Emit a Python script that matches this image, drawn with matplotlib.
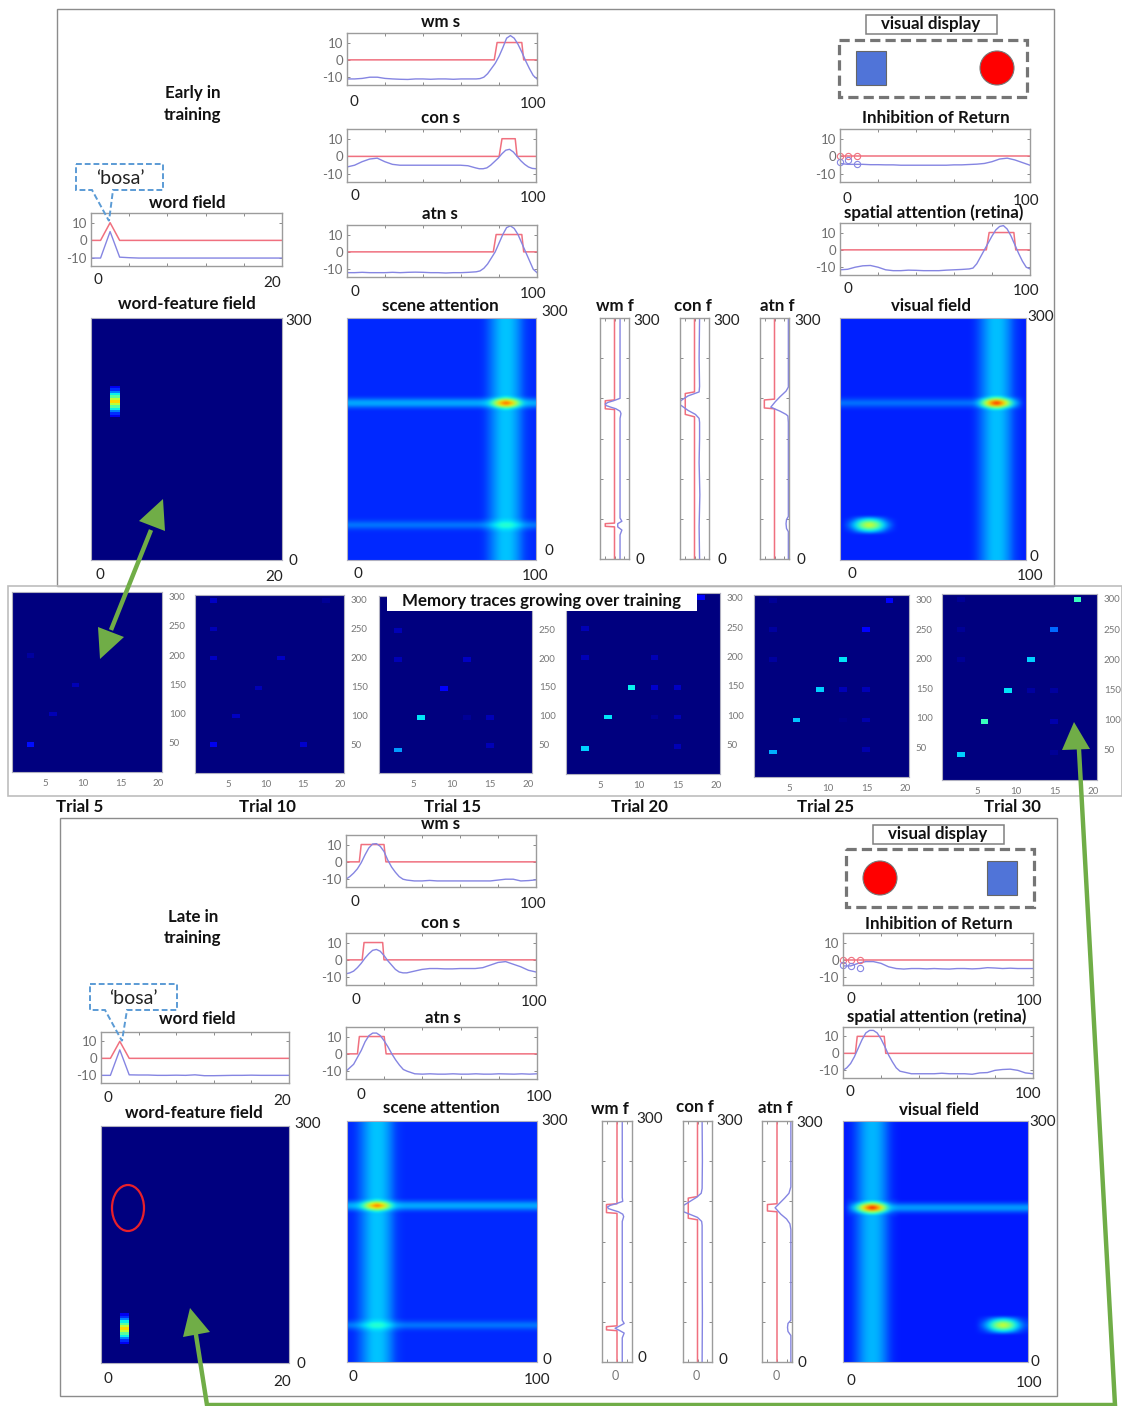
#!/usr/bin/env python3
import numpy as np
import matplotlib
matplotlib.use("Agg")
import matplotlib.pyplot as plt
from matplotlib.patches import Rectangle, Circle, Ellipse, Polygon

plt.rcParams['font.family'] = ['Lato', 'DejaVu Sans']
plt.rcParams['axes.unicode_minus'] = False

W, H = 1122, 1406
RED = '#F0707F'
BLUE = '#8585E2'
GREEN = '#70AD47'
FRAME = '#9C9C9C'

# --- line panels ---
x_s = list(range(0, 101, 4))
x_early = list(range(0, 70, 4)) + list(range(70, 101, 2))
x_late = list(range(0, 32, 2)) + list(range(32, 101, 4))
x_word = list(range(0, 21))

early_wm_s = [-11, -11, -10.7, -10, -10, -10.7, -11, -11.2, -11.3, -11, -11, -11.2, -11, -11, -11.2, -11, -11, -11,
              -10.8, -10, -8, -5, -2, 2, 7, 12.5, 14, 12.5, 9, 4.5, -.5, -5, -9, -11]
early_con_s = [-6, -5, -3, -1.5, -1, -3, -4.5, -5, -5, -5, -5, -5, -5, -5, -5, -5, -5.3, -6.5,
               -7, -7, -6.5, -5, -3, -1, 1.5, 3.5, 4, 2.5, 0, -2.5, -4.5, -6, -6.8, -7]
early_atn_s = [-12, -12, -11.8, -12, -12, -12, -11.8, -12, -11.8, -11.7, -11.8, -12, -12, -12.2, -12, -12, -11.8, -11.5,
               -11, -9.5, -7, -3.5, 0, 5, 10, 14, 15, 13.5, 10, 5, 0, -5, -10, -12]
early_ior = [-4, -4.5, -4.5, -4.5, -4.7, -4.7, -4.8, -4.8, -5, -5, -5, -5, -5, -5, -5, -4.8, -4.8, -4.6, -4.4, -4,
             -3, -1.5, -1, -2, -3.5, -5]
early_spatial = [-11.5, -11.2, -10, -9.2, -9, -10, -11.5, -12, -12, -11.7, -11.8, -12, -12, -12, -11.7, -11.5, -11.3, -11,
                 -10.5, -8, -4, 0, 4, 8, 11.5, 13.5, 14, 12, 8, 3, -2, -6.5, -10, -11]
early_word = [-10, -10, 5, -9.5, -9.8, -10, -10, -10, -10, -10, -10, -10, -10, -10, -10, -10, -10, -10, -10, -10, -10]

late_wm_s = [-10, -8.5, -6.5, -4, -.5, 4, 8, 10.3, 10.5, 9, 6, 1, -3, -6, -8.5, -10,
             -10.5, -11, -11, -10.7, -11, -11, -11, -11, -11, -11, -11, -11, -10.5, -10, -10, -11, -10.8, -10.4]
late_con_s = [-8, -7.5, -6.5, -4.5, -2, 1, 3.5, 5.5, 6, 5, 2.5, -.5, -3, -5.5, -7, -7.5,
              -7.5, -6.5, -5.5, -5, -5, -5.2, -5.2, -5, -5, -5, -4.5, -3, -1.5, -1, -2.5, -4, -6, -7]
late_atn_s = [-10, -8, -6, -2, 2, 7, 10.5, 12, 12, 10.5, 7.5, 4, 0, -3.5, -6.5, -9,
              -10, -11.5, -11.7, -11.5, -11.7, -11.7, -11.5, -11.7, -11.7, -11.5, -11.7, -11.7, -11.5, -11.6, -11.7,
              -11.5, -11.7, -11.5]
late_ior = [-3.5, -3.5, -2, -1, -1, -2, -4, -5, -5.3, -5, -5, -5.2, -5, -5.2, -5.3, -5, -5, -5.2, -5, -4.5, -4.7, -5,
            -4.8, -5, -5, -5]
late_spatial = [-10, -8.5, -6, -2, 3, 8, 12, 13.5, 13.5, 12, 8.5, 4, -1, -5, -8.5, -10.5,
                -11, -12, -12, -12, -12, -11.7, -12, -12, -12, -12.3, -11.5, -11.3, -10, -9.5, -9.3, -10, -11.5, -12]
late_word = [-10, -10, 5, -9.7, -9.8, -9.8, -10, -10, -9.9, -10, -9.7, -10.2, -10.2, -10.1, -10, -10, -9.9, -10, -10,
             -10, -10]
word_red = [0, 0, 10, 0, 0, 0, 0, 0, 0, 0, 0, 0, 0, 0, 0, 0, 0, 0, 0, 0, 0]

box_y = [0, 0, 10, 10, 0, 0]
early_wm_box = [0, 77.5, 79, 92, 93, 100]
early_con_box = [0, 80.5, 82, 89, 90, 100]
early_atn_box = [0, 77, 78.5, 92, 93, 100]
early_spatial_box = [0, 77, 78.5, 91.5, 92.5, 100]
late_wm_box = [0, 7, 8, 20, 21, 100]
late_con_box = [0, 8.5, 9.5, 19.3, 20, 100]
late_atn_box = [0, 6, 7, 20, 21, 100]
late_spatial_box = [0, 6.5, 7.5, 21.7, 22.5, 100]

ior_x = [0, 4, 9]
early_ior_red = [0, 0, 0]
early_ior_blue = [-3, -2, -4.5]
late_ior_blue = [-3, -3.5, -4.8]

# --- rotated feature panels ---
early_wmf_y = [0, 30, 36, 40, 44, 47, 51, 60, 175, 181, 184, 187, 189, 191, 193, 195, 197, 200, 205, 300]
early_wmf_v = [-6, -6, -8, -3.5, -3.5, -8, -6, -6, -6, -7, -6, -1.5, 4, 9, 10, 7, 1, -6, -6, -6]
early_wmf_ry = [0, 40, 40.7, 44, 44.7, 186, 187, 197, 198, 300]
early_wmf_rv = [0, 0, 10, 10, 0, 0, 10, 10, 0, 0]
early_conf_y = [0, 40, 80, 120, 150, 170, 175, 180, 185, 192, 197, 203, 208, 215, 250, 300]
early_conf_v = [-5.5, -5, -5.8, -5, -5.5, -5.5, -5, -1, 7, 15.5, 15, 7, -5, -5.5, -5, -5.5]
early_conf_ry = [0, 177, 180, 206, 208, 300]
early_conf_rv = [0, 0, 10, 10, 0, 0]
early_atnf_y = [0, 34, 38, 44, 49, 53, 170, 178, 180, 184, 189, 196, 202, 209, 214, 300]
early_atnf_v = [-15, -15, -13, -12.5, -13, -15, -15, -14.5, -12.5, -6, 4, -1, -6, -12.5, -15, -15]
early_atnf_ry = [0, 187, 188, 198, 199, 300]
early_atnf_rv = [0, 0, 11, 11, 0, 0]

late_wmf_y = [0, 30, 36, 39, 42, 45, 48, 52, 60, 175, 181, 184, 187, 189, 191, 193, 195, 197, 200, 205, 300]
late_wmf_v = [-5.5, -5.5, -7.5, -3, 2, -3, -7.5, -5.5, -5.5, -5.5, -7, -6, -1.5, 4, 9, 10, 7, 1, -6, -5.5, -5.5]
late_wmf_ry = [0, 39, 40, 44, 45, 185, 186, 196, 197, 300]
late_wmf_rv = [0, 0, 11, 11, 0, 0, 11, 11, 0, 0]
late_conf_y = [0, 60, 120, 170, 175, 180, 187, 195, 200, 205, 210, 216, 250, 300]
late_conf_v = [-5, -5.3, -5, -5, -4.5, 0, 15, 15, 8, 1, -4, -5, -5.3, -5]
late_conf_ry = [0, 177, 179, 204, 206, 300]
late_conf_rv = [0, 0, 10, 10, 0, 0]
late_atnf_y = [0, 33, 38, 43, 48, 52, 165, 172, 178, 184, 192, 198, 204, 210, 218, 300]
late_atnf_v = [-14.5, -14.5, -11.5, -11, -11.5, -14.5, -14.5, -13.5, -10, -4, 2, -3, -8, -12.5, -14.5, -14.5]
late_atnf_ry = [0, 187, 188, 196, 197, 300]
late_atnf_rv = [0, 0, 10, 10, 0, 0]

# --- heat fields ---
word_trace = [.10, .17, .25, .36, .46, .58, .68, .58, .46, .36, .25, .17, .10]
early_word_col, early_word_row = 3, 195
late_word_col, late_word_row = 3, 44

band_right_x = [72.5, 75, 77.5, 80, 82.5, 85, 87.5, 90, 92.5, 95, 97.5]
band_left_x = [2.5, 5, 7.5, 10, 12.5, 15, 17.5, 20, 22.5, 25, 27.5]
band_v = [.01, .04, .08, .12, .15, .155, .15, .12, .08, .03, .01]
row_off = [-7.5, -5, -2.5, 0, 2.5, 5, 7.5]
row_main_v = [.02, .06, .11, .13, .11, .06, .02]
row_faint_v = [.01, .03, .06, .08, .06, .03, .01]
hot_patch = [[.17, .18, .20, .22, .24, .25, .24, .22, .20, .18, .17],
             [.18, .21, .26, .32, .37, .40, .37, .32, .26, .21, .18],
             [.20, .25, .34, .44, .52, .56, .52, .44, .34, .25, .20],
             [.22, .30, .42, .58, .70, .76, .70, .58, .42, .30, .22],
             [.24, .32, .46, .64, .78, .88, .78, .64, .46, .32, .24],
             [.22, .30, .42, .58, .70, .76, .70, .58, .42, .30, .22],
             [.20, .25, .34, .44, .52, .56, .52, .44, .34, .25, .20],
             [.18, .21, .26, .32, .37, .40, .37, .32, .26, .21, .18],
             [.17, .18, .20, .22, .24, .25, .24, .22, .20, .18, .17]]
low_patch = [[.16, .17, .19, .21, .23, .24, .23, .21, .19, .17, .16],
             [.17, .19, .24, .29, .33, .35, .33, .29, .24, .19, .17],
             [.18, .22, .29, .36, .42, .45, .42, .36, .29, .22, .18],
             [.19, .25, .33, .43, .52, .56, .52, .43, .33, .25, .19],
             [.20, .26, .35, .46, .55, .60, .55, .46, .35, .26, .20],
             [.19, .25, .33, .43, .52, .56, .52, .43, .33, .25, .19],
             [.18, .22, .29, .36, .42, .45, .42, .36, .29, .22, .18],
             [.17, .19, .24, .29, .33, .35, .33, .29, .24, .19, .17],
             [.16, .17, .19, .21, .23, .24, .23, .21, .19, .17, .16]]

# --- memory traces (col, row, level) ---
trial5 = [(3, 47, .14), (6, 99, .05), (9, 149, .05), (3, 199, .03)]
trial10 = [(3, 49, .10), (15, 49, .07), (6, 98, .06), (9, 146, .05), (3, 198, .06), (12, 198, .06), (3, 248, .05),
           (3, 297, .06), (18, 297, .02)]
trial15 = [(3, 40, .28), (15, 48, .05), (6, 97, .35), (12, 97, .02), (15, 97, .05), (9, 147, .11), (3, 198, .05),
           (12, 198, .06), (3, 248, .05), (3, 297, .05)]
trial20 = [(3, 43, .33), (15, 47, .05), (6, 97, .35), (12, 97, .02), (15, 97, .05), (9, 147, .36), (12, 147, .07),
           (15, 147, .06), (3, 198, .05), (12, 198, .05), (3, 248, .05), (18, 300, .11)]
trial25 = [(3, 42, .30), (15, 46, .04), (6, 96, .32), (12, 96, .01), (15, 96, .04), (9, 147, .33), (12, 147, .05),
           (15, 147, .05), (3, 198, .03), (12, 198, .35), (3, 248, .03), (15, 248, .12), (3, 297, .02), (18, 297, .12)]
trial30 = [(3, 42, .33), (15, 46, .02), (6, 97, .42), (15, 97, .04), (9, 147, .35), (12, 147, .03), (15, 147, .03),
           (3, 198, .02), (12, 198, .33), (3, 248, .02), (15, 248, .23), (3, 297, .02), (18, 297, .42)]
trial_names = ['Trial 5', 'Trial 10', 'Trial 15', 'Trial 20', 'Trial 25', 'Trial 30']
trial_ticks_x = [5, 10, 15, 20]
trial_ticks_y = [50, 100, 150, 200, 250, 300]

fig = plt.figure(figsize=(W / 100, H / 100), dpi=100, facecolor='white')


def px_axes(l, t, r, b, zorder=1):
    return fig.add_axes([l / W, 1 - b / H, (r - l) / W, (b - t) / H], zorder=zorder)


bg = px_axes(0, 0, W, H, zorder=0)
top = px_axes(0, 0, W, H, zorder=5)
for a in (bg, top):
    a.set_xlim(0, W)
    a.set_ylim(H, 0)
    a.axis('off')
top.patch.set_alpha(0)


def txt(x, y, s, size=12.2, bold=True, color='#111111', ha='center'):
    top.text(x, y, s, fontsize=size, fontweight='bold' if bold else 'normal', color=color,
             ha=ha, va='center')


def num(x, y, s):
    txt(x, y, s, size=11, bold=False, color='#222222')


def style(ax, xt, yt):
    for s in ax.spines.values():
        s.set_color(FRAME)
        s.set_linewidth(1.0)
    ax.set_xticks(xt)
    ax.set_yticks(yt)
    ax.tick_params(direction='in', length=2, width=.6, color='#777777', top=True, right=True,
                   labelbottom=False, labelleft=False, pad=3)


def line_panel(box, blue, red_x, red_y, xs=x_s, xmax=100):
    ax = px_axes(*box)
    ax.plot(red_x, red_y, color=RED, lw=1.1)
    ax.plot(xs, blue, color=BLUE, lw=1.0)
    ax.set_xlim(0, xmax)
    ax.set_ylim(-14.5, 15.5)
    style(ax, [xmax * k / 5 for k in range(1, 5)], [-10, 0, 10])
    ax.tick_params(labelleft=True, labelsize=9.5, labelcolor='#6E6E6E')
    return ax


def feature_panel(box, ry, rv, y, v):
    ax = px_axes(*box)
    ax.plot(rv, ry, color=RED, lw=1.1)
    ax.plot(v, y, color=BLUE, lw=1.0)
    ax.set_xlim(15.7, -15.7)
    ax.set_ylim(0, 300)
    style(ax, [10, 0, -10], [50, 100, 150, 200, 250])


def make_field(band_x, rows, base, hot, low=None):
    # grid is 2.5 units per cell on both axes
    col = np.zeros(41)
    col[np.round(np.array(band_x) / 2.5).astype(int)] = band_v
    f = np.full((121, 41), base) + col
    for yc, vals, x0, x1 in rows:
        for off, val in zip(row_off, vals):
            i = int(round((yc + off) / 2.5))
            f[i, int(x0 / 2.5):int(x1 / 2.5) + 1] += val
    pats = [hot] + ([low] if low else [])
    for (xc, yc, scale, p) in pats:
        p = np.array(p) * scale
        r0 = int(round(yc / 2.5)) - p.shape[0] // 2
        c0 = int(round(xc / 2.5)) - p.shape[1] // 2
        f[r0:r0 + p.shape[0], c0:c0 + p.shape[1]] = np.maximum(f[r0:r0 + p.shape[0], c0:c0 + p.shape[1]], p)
    return f


def heat(box, field, extent, interp='bicubic'):
    ax = px_axes(*box)
    ax.imshow(field, origin='lower', cmap='jet', vmin=0, vmax=1, aspect='auto', extent=extent,
              interpolation=interp)
    ax.set_xticks([])
    ax.set_yticks([])
    for s in ax.spines.values():
        s.set_color('#B0B0C0')
        s.set_linewidth(.8)
    return ax


def word_heat(box, col, row):
    f = np.zeros((100, 20))
    r0 = row // 3 - len(word_trace) // 2
    f[r0:r0 + len(word_trace), col - 1] = word_trace
    heat(box, f, (.5, 20.5, 0, 300), interp='nearest')


def trial_panel(box, traces, yticks):
    f = np.zeros((308, 20))
    for col, row, lev in traces:
        f[row - 4:row + 4, col - 1] = lev
    ax = heat(box, f, (.5, 20.5, 0, 308), interp='nearest')
    ax.set_xticks(trial_ticks_x)
    ax.set_yticks(yticks)
    ax.yaxis.tick_right()
    ax.tick_params(length=0, labelsize=7, labelcolor='#777777', pad=5)


def display_box(label_box, dash_box, sq, circ, cx):
    l, t, r, b = label_box
    top.add_patch(Rectangle((l, t), r - l, b - t, fc='white', ec='#808080', lw=1.1))
    txt(cx, (t + b) / 2, 'visual display')
    l, t, r, b = dash_box
    top.add_patch(Rectangle((l, t), r - l, b - t, fc='none', ec='#757575', lw=2.3, ls=(0, (3.2, 1.6))))
    l, t, r, b = sq
    top.add_patch(Rectangle((l, t), r - l, b - t, fc='#5074D8', ec='#666666', lw=.8))
    top.add_patch(Circle(circ, 17, fc='#FF0000', ec='#777777', lw=.8))


def bubble(box, tail, tip, tx, ty):
    l, t, r, b = box
    pts = [(l, t), (r, t), (r, b), (tail[1], b), tip, (tail[0], b), (l, b)]
    top.add_patch(Polygon(pts, closed=True, fc='none', ec='#5B9BD5', lw=1.4, ls=(0, (3, 1.5))))
    txt(tx, ty, '\u2018bosa\u2019', size=14, bold=False, color='#222222')


# frames
bg.add_patch(Rectangle((57, 9), 997, 577, fc='none', ec='#8C8C8C', lw=1.0))
bg.add_patch(Rectangle((60, 818), 997, 578, fc='none', ec='#8C8C8C', lw=1.0))
bg.add_patch(Rectangle((8, 586), 1114, 210, fc='none', ec='#BDBDBD', lw=1.2))

# --- top block ---
line_panel((347, 33, 537, 85), early_wm_s, early_wm_box, box_y, xs=x_early)
line_panel((347, 129, 536, 182), early_con_s, early_con_box, box_y, xs=x_early)
line_panel((347, 225, 537, 277), early_atn_s, early_atn_box, box_y, xs=x_early)
ax = line_panel((840, 129, 1030, 182), early_ior, [0, 100], [0, 0])
ax.plot(ior_x, early_ior_red, 'o', mfc='none', mec=RED, ms=4.5, mew=.8, clip_on=False)
ax.plot(ior_x, early_ior_blue, 'o', mfc='none', mec=BLUE, ms=4.5, mew=.8, clip_on=False)
line_panel((840, 223, 1030, 275), early_spatial, early_spatial_box, box_y, xs=x_early)
line_panel((91, 213, 282, 266), early_word, x_word, word_red, xs=x_word, xmax=20)
word_heat((91, 318, 282, 560), early_word_col, early_word_row)
heat((347, 318, 536, 560), make_field(band_right_x, [(194, row_main_v, 0, 100), (43, row_faint_v, 0, 100)], .165,
                                      (85, 194, .94, hot_patch)), (-1.25, 101.25, -1.25, 301.25))
heat((840, 318, 1026, 560), make_field(band_right_x, [(194, row_faint_v, 0, 78)], .16,
                                       (86, 194, 1.0, hot_patch), (15, 43, 1.0, low_patch)),
     (-1.25, 101.25, -1.25, 301.25))
feature_panel((600, 318, 629, 559), early_wmf_ry, early_wmf_rv, early_wmf_y, early_wmf_v)
feature_panel((680, 318, 709, 559), early_conf_ry, early_conf_rv, early_conf_y, early_conf_v)
feature_panel((760, 318, 789, 559), early_atnf_ry, early_atnf_rv, early_atnf_y, early_atnf_v)

display_box((866, 15, 997, 34), (839, 40, 1027, 97), (856, 51, 886, 85), (997, 68), 931)
bubble((76, 164, 163, 190), (92, 113), (109, 221), 120, 178)

for x, y, s in [(441, 22, 'wm s'), (441, 118, 'con s'), (440, 214, 'atn s'), (187, 203, 'word field'),
                (193, 93, 'Early in'), (193, 115, 'training'), (187, 304, 'word-feature field'),
                (440, 306, 'scene attention'), (615, 306, 'wm f'), (693, 306, 'con f'), (777, 306, 'atn f'),
                (931, 306, 'visual field'), (936, 118, 'Inhibition of Return'),
                (934, 213, 'spatial attention (retina)')]:
    txt(x, y, s)
for x, y, s in [(354, 102, '0'), (533, 104, '100'), (355, 196, '0'), (533, 198, '100'), (355, 292, '0'),
                (533, 294, '100'), (98, 280, '0'), (272, 283, '20'), (299, 321, '300'), (293, 561, '0'),
                (100, 575, '0'), (274, 577, '20'), (555, 312, '300'), (549, 551, '0'), (358, 574, '0'),
                (535, 576, '100'), (647, 321, '300'), (640, 560, '0'), (727, 321, '300'), (722, 560, '0'),
                (808, 321, '300'), (801, 560, '0'), (1041, 317, '300'), (1034, 557, '0'), (852, 574, '0'),
                (1030, 576, '100'), (847, 199, '0'), (1026, 201, '100'), (848, 289, '0'), (1026, 291, '100')]:
    num(x, y, s)

# --- middle block ---
trial_boxes = [(12, 592, 162, 772), (195, 595, 344, 773), (379, 596, 532, 773), (566, 593, 720, 774),
               (754, 595, 909, 777), (942, 594, 1097, 780)]
trial_label_x = [80, 268, 453, 640, 826, 1013]
trials = [trial5, trial10, trial15, trial20, trial25, trial30]
for k, (b, tr) in enumerate(zip(trial_boxes, trials)):
    # the label box hides the 300 of the third panel
    trial_panel(b, tr, trial_ticks_y[:-1] if k == 2 else trial_ticks_y)
for x, s in zip(trial_label_x, trial_names):
    txt(x, 807, s)
top.add_patch(Rectangle((387, 590), 310, 21, fc='white', ec='none'))
txt(542, 601, 'Memory traces growing over training')

# --- bottom block ---
line_panel((346, 835, 536, 887), late_wm_s, late_wm_box, box_y, xs=x_late)
line_panel((346, 933, 536, 985), late_con_s, late_con_box, box_y, xs=x_late)
line_panel((346, 1027, 537, 1079), late_atn_s, late_atn_box, box_y, xs=x_late)
ax = line_panel((843, 933, 1033, 985), late_ior, [0, 100], [0, 0])
ax.plot(ior_x, early_ior_red, 'o', mfc='none', mec=RED, ms=4.5, mew=.8, clip_on=False)
ax.plot(ior_x, late_ior_blue, 'o', mfc='none', mec=BLUE, ms=4.5, mew=.8, clip_on=False)
line_panel((843, 1027, 1033, 1078), late_spatial, late_spatial_box, box_y, xs=x_late)
line_panel((101, 1032, 289, 1083), late_word, x_word, word_red, xs=x_word, xmax=20)
word_heat((101, 1126, 289, 1363), late_word_col, late_word_row)
heat((347, 1121, 537, 1362), make_field(band_left_x, [(194, row_main_v, 0, 100), (46, row_faint_v, 0, 100)], .165,
                                        (14, 194, .92, hot_patch)), (-1.25, 101.25, -1.25, 301.25))
heat((843, 1121, 1028, 1362), make_field(band_left_x, [(193, row_main_v, 25, 100)], .15,
                                         (14.5, 193, 1.02, hot_patch), (87, 44, 1.0, low_patch)),
     (-1.25, 101.25, -1.25, 301.25))
feature_panel((602, 1121, 632, 1362), late_wmf_ry, late_wmf_rv, late_wmf_y, late_wmf_v)
feature_panel((683, 1121, 712, 1362), late_conf_ry, late_conf_rv, late_conf_y, late_conf_v)
feature_panel((762, 1121, 792, 1362), late_atnf_ry, late_atnf_rv, late_atnf_y, late_atnf_v)

display_box((873, 825, 1004, 844), (846, 849, 1034, 907), (987, 861, 1017, 895), (880, 878), 938)
bubble((90, 984, 177, 1010), (105, 127), (122, 1041), 133, 998)
top.add_patch(Ellipse((128, 1208), 32, 46, fc='none', ec='#E8202A', lw=1.6))

for x, y, s in [(441, 824, 'wm s'), (441, 923, 'con s'), (443, 1018, 'atn s'), (197, 1019, 'word field'),
                (193, 917, 'Late in'), (193, 938, 'training'), (194, 1113, 'word-feature field'),
                (441, 1108, 'scene attention'), (610, 1109, 'wm f'), (695, 1107, 'con f'), (775, 1108, 'atn f'),
                (939, 1110, 'visual field'), (939, 924, 'Inhibition of Return'),
                (937, 1017, 'spatial attention (retina)')]:
    txt(x, y, s)
for x, y, s in [(355, 902, '0'), (533, 904, '100'), (356, 1000, '0'), (534, 1002, '100'), (361, 1095, '0'),
                (539, 1097, '100'), (108, 1098, '0'), (282, 1101, '20'), (308, 1124, '300'), (301, 1364, '0'),
                (108, 1379, '0'), (282, 1382, '20'), (555, 1121, '300'), (547, 1360, '0'), (353, 1377, '0'),
                (537, 1380, '100'), (650, 1119, '300'), (642, 1358, '0'), (730, 1121, '300'), (723, 1360, '0'),
                (810, 1123, '300'), (802, 1363, '0'), (1043, 1122, '300'), (1035, 1362, '0'), (851, 1381, '0'),
                (1029, 1383, '100'), (851, 999, '0'), (1029, 1001, '100'), (850, 1092, '0'), (1028, 1094, '100')]:
    num(x, y, s)
for x in (615, 696, 776):
    txt(x, 1376, '0', size=9, bold=False, color='#777777')

# --- green arrows ---
top.plot([151, 111], [530, 630], color=GREEN, lw=3.2, solid_capstyle='butt')
top.add_patch(Polygon([(163, 499), (139, 521), (165, 531)], fc=GREEN, ec='none'))
top.add_patch(Polygon([(100, 659), (98, 627), (124, 637)], fc=GREEN, ec='none'))
top.plot([196, 207, 1115, 1079], [1335, 1405, 1405, 750], color=GREEN, lw=3.2, solid_joinstyle='miter')
top.add_patch(Polygon([(190, 1308), (183, 1337), (210, 1332)], fc=GREEN, ec='none'))
top.add_patch(Polygon([(1074, 722), (1062, 750), (1090, 749)], fc=GREEN, ec='none'))

fig.savefig('out.png', dpi=100)
